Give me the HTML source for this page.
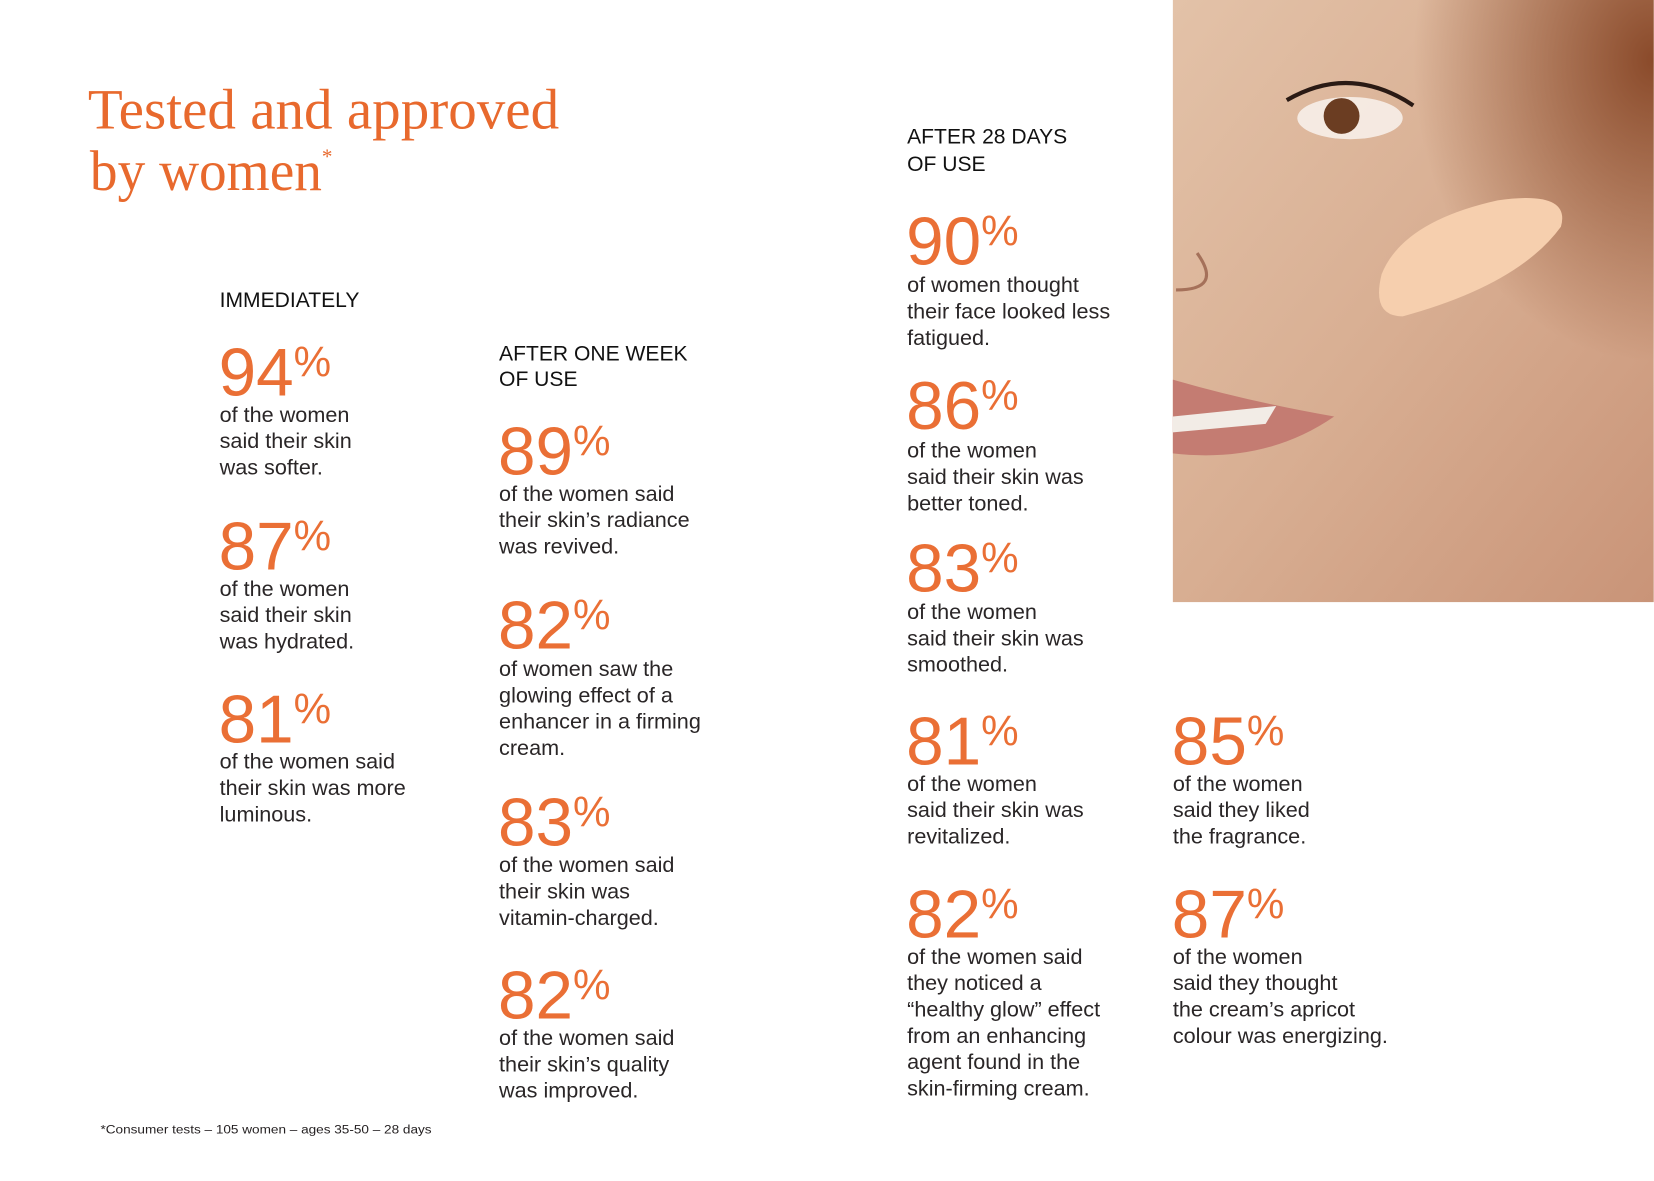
<!DOCTYPE html>
<html><head><meta charset="utf-8"><style>
html,body{margin:0;padding:0;background:#fff;width:1654px;height:1181px;overflow:hidden}
svg{display:block}
.b{font-family:"Liberation Sans",sans-serif;font-size:20.5px;fill:#2a2627}
.h{font-family:"Liberation Sans",sans-serif;font-size:20px;fill:#111}
.n{font-family:"Liberation Sans",sans-serif;font-size:64px;fill:#ea6f35}
.p{font-size:40px}
</style></head><body>
<svg width="1654" height="1181" viewBox="0 0 1568 1120" xmlns="http://www.w3.org/2000/svg">
<defs>
<linearGradient id="sk" x1="0" y1="0" x2="1" y2="1">
<stop offset="0" stop-color="#e3c2a8"/><stop offset="0.5" stop-color="#d8ae92"/><stop offset="1" stop-color="#c99478"/>
</linearGradient>
<radialGradient id="hr" cx="1" cy="0.1" r="0.5"><stop offset="0" stop-color="#8a4a2a"/><stop offset="1" stop-color="#8a4a2a" stop-opacity="0"/></radialGradient>
</defs>
<rect x="1112" y="0" width="456" height="571" fill="url(#sk)"/>
<rect x="1112" y="0" width="456" height="571" fill="url(#hr)"/>
<path d="M1112 360 Q1180 380 1265 395 Q1200 440 1112 430 Z" fill="#c47c72"/>
<path d="M1112 395 L1210 385 L1200 402 L1112 410 Z" fill="#f2ece6"/>
<ellipse cx="1280" cy="112" rx="50" ry="20" fill="#fff" opacity="0.7"/>
<circle cx="1272" cy="110" r="17" fill="#6b3d22"/>
<path d="M1220 95 Q1280 60 1340 100" stroke="#2a1a14" stroke-width="4" fill="none"/>
<path d="M1310 260 Q1330 210 1420 190 Q1490 180 1480 215 Q1440 270 1330 300 Q1300 300 1310 260Z" fill="#f6cfae"/>
<path d="M1135 240 Q1160 275 1115 275" stroke="#a5715a" stroke-width="3" fill="none"/>

<text x="83" y="122" font-family="Liberation Serif,serif" font-size="54" fill="#e8692d" textLength="447" lengthAdjust="spacingAndGlyphs">Tested and approved</text>
<text x="85" y="180" font-family="Liberation Serif,serif" font-size="54" fill="#e8692d" textLength="220" lengthAdjust="spacingAndGlyphs">by women</text>
<text x="305" y="155" font-family="Liberation Serif,serif" font-size="20" fill="#e8692d">*</text>

<text class="h" x="208" y="291">IMMEDIATELY</text>
<text class="n" x="207" y="375">94<tspan class="p" dy="-18">%</tspan></text>
<text class="b" x="208" y="400">of the women</text><text class="b" x="208" y="425">said their skin</text><text class="b" x="208" y="450">was softer.</text>
<text class="n" x="207" y="540">87<tspan class="p" dy="-18">%</tspan></text>
<text class="b" x="208" y="565">of the women</text><text class="b" x="208" y="590">said their skin</text><text class="b" x="208" y="615">was hydrated.</text>
<text class="n" x="207" y="704">81<tspan class="p" dy="-18">%</tspan></text>
<text class="b" x="208" y="729">of the women said</text><text class="b" x="208" y="754">their skin was more</text><text class="b" x="208" y="779">luminous.</text>

<text class="h" x="473" y="342">AFTER ONE WEEK</text><text class="h" x="473" y="366">OF USE</text>
<text class="n" x="472" y="450">89<tspan class="p" dy="-18">%</tspan></text>
<text class="b" x="473" y="475">of the women said</text><text class="b" x="473" y="500">their skin’s radiance</text><text class="b" x="473" y="525">was revived.</text>
<text class="n" x="472" y="615">82<tspan class="p" dy="-18">%</tspan></text>
<text class="b" x="473" y="641">of women saw the</text><text class="b" x="473" y="666">glowing effect of a</text><text class="b" x="473" y="691">enhancer in a firming</text><text class="b" x="473" y="716">cream.</text>
<text class="n" x="472" y="802">83<tspan class="p" dy="-18">%</tspan></text>
<text class="b" x="473" y="827">of the women said</text><text class="b" x="473" y="852">their skin was</text><text class="b" x="473" y="877">vitamin-charged.</text>
<text class="n" x="472" y="966">82<tspan class="p" dy="-18">%</tspan></text>
<text class="b" x="473" y="991">of the women said</text><text class="b" x="473" y="1016">their skin’s quality</text><text class="b" x="473" y="1041">was improved.</text>

<text class="h" x="860" y="136">AFTER 28 DAYS</text><text class="h" x="860" y="162">OF USE</text>
<text class="n" x="859" y="251">90<tspan class="p" dy="-18">%</tspan></text>
<text class="b" x="860" y="277">of women thought</text><text class="b" x="860" y="302">their face looked less</text><text class="b" x="860" y="327">fatigued.</text>
<text class="n" x="859" y="407">86<tspan class="p" dy="-18">%</tspan></text>
<text class="b" x="860" y="434">of the women</text><text class="b" x="860" y="459">said their skin was</text><text class="b" x="860" y="484">better toned.</text>
<text class="n" x="859" y="561">83<tspan class="p" dy="-18">%</tspan></text>
<text class="b" x="860" y="587">of the women</text><text class="b" x="860" y="612">said their skin was</text><text class="b" x="860" y="637">smoothed.</text>
<text class="n" x="859" y="725">81<tspan class="p" dy="-18">%</tspan></text>
<text class="b" x="860" y="750">of the women</text><text class="b" x="860" y="775">said their skin was</text><text class="b" x="860" y="800">revitalized.</text>
<text class="n" x="859" y="889">82<tspan class="p" dy="-18">%</tspan></text>
<text class="b" x="860" y="914">of the women said</text><text class="b" x="860" y="939">they noticed a</text><text class="b" x="860" y="964">“healthy glow” effect</text><text class="b" x="860" y="989">from an enhancing</text><text class="b" x="860" y="1014">agent found in the</text><text class="b" x="860" y="1039">skin-firming cream.</text>

<text class="n" x="1111" y="725">85<tspan class="p" dy="-18">%</tspan></text>
<text class="b" x="1112" y="750">of the women</text><text class="b" x="1112" y="775">said they liked</text><text class="b" x="1112" y="800">the fragrance.</text>
<text class="n" x="1111" y="889">87<tspan class="p" dy="-18">%</tspan></text>
<text class="b" x="1112" y="914">of the women</text><text class="b" x="1112" y="939">said they thought</text><text class="b" x="1112" y="964">the cream’s apricot</text><text class="b" x="1112" y="989">colour was energizing.</text>

<text x="95" y="1075" font-family="Liberation Sans,sans-serif" font-size="11" fill="#231f20" textLength="314" lengthAdjust="spacingAndGlyphs">*Consumer tests – 105 women – ages 35-50 – 28 days</text>
</svg>
</body></html>
